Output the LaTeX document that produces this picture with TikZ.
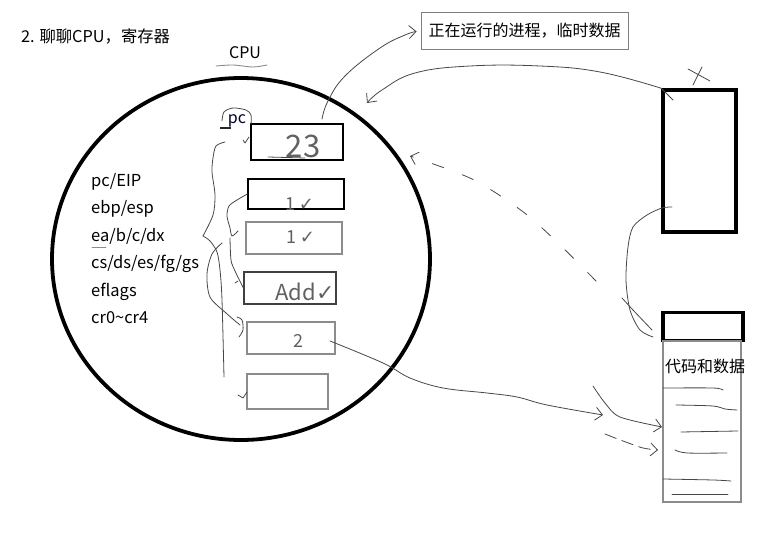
\documentclass[tikz,border=0pt]{standalone}
\usepackage{fontspec}
\setmainfont{Noto Sans CJK SC}
\newfontfamily\symfont{DejaVu Sans}
\usetikzlibrary{arrows.meta,shapes.geometric}
\begin{document}
\begin{tikzpicture}[x=1pt,y=-1pt,
  txt/.style={inner sep=0pt, font=\fontsize{16.5}{16.5}\selectfont},
  cjktxt/.style={inner sep=0pt, font=\fontsize{16}{16}\selectfont},
  regbox/.style={draw=black, line width=1.1pt, inner sep=0pt},
  regboxg/.style={draw=black!45, line width=1.1pt, inner sep=0pt},
  thickbox/.style={draw=black, line width=3.5pt, inner sep=0pt},
  hand/.style={draw=black!72, line width=0.8pt, line cap=round, line join=round},
  handg/.style={draw=black!45, line width=0.9pt, line cap=round, line join=round},
  handtxt/.style={inner sep=0pt, text=black!62},
  tip/.style={-{Straight Barb[length=7pt,width=13pt]}}
]
\useasboundingbox (0,0) rectangle (780,548);

% title
\node (title) [cjktxt, font=\fontsize{16.3}{16.3}\selectfont, anchor=base west] at (21,43) {2. 聊聊CPU，寄存器};
\node (cpulbl) [cjktxt, anchor=base] at (245,59) {CPU};
\draw[handg] plot[smooth] coordinates {(216,66) (233,65) (253,67) (267,65)};

% CPU circle
\node (cpu) [ellipse, draw=black, line width=3.8pt, minimum width=378pt, minimum height=362pt, inner sep=0pt] at (241,259) {};

% register list
\node (l1) [txt, anchor=base west] at (91,187) {pc/EIP};
\node (l2) [txt, anchor=base west] at (91,214) {ebp/esp};
\node (l3) [txt, anchor=base west] at (91,242) {ea/b/c/dx};
\node (l4) [txt, anchor=base west] at (91,269) {cs/ds/es/fg/gs};
\node (l5) [txt, anchor=base west] at (91,297) {eflags};
\node (l6) [txt, anchor=base west] at (91,324) {cr0\textasciitilde cr4};
\draw[handg] (92,247.5) -- (106,247.5);

% register boxes
\node (r1) [regbox, minimum width=92pt, minimum height=36pt] at (297,142) {};
\node (r2) [regbox, minimum width=96pt, minimum height=30pt] at (296,194) {};
\node (r3) [regboxg, minimum width=96pt, minimum height=32pt] at (294,238) {};
\node (r4) [regbox, draw=black!75, minimum width=92pt, minimum height=32pt] at (290,288) {};
\node (r5) [regboxg, minimum width=88pt, minimum height=32pt] at (291,338) {};
\node (r6) [regboxg, minimum width=81pt, minimum height=35pt] at (287.5,391.5) {};

% handwritten contents
\node (v1) [handtxt, font=\fontsize{31}{31}\selectfont] at (303,146) {23};
\draw[hand] (268,157) -- (305,158);
\node (v2) [handtxt, font=\fontsize{18}{18}\selectfont] at (300,204) {1\,{\symfont ✓}};
\node (v3) [handtxt, font=\fontsize{18}{18}\selectfont] at (301,237) {1\,{\symfont ✓}};
\node (v4) [handtxt, font=\fontsize{22}{22}\selectfont] at (305,292) {Add{\symfont ✓}};
\node (v5) [handtxt, font=\fontsize{18}{18}\selectfont] at (298,341) {2};

% pc label
\node (pc) [txt, font=\fontsize{16}{16}\selectfont, text=black!85!blue, anchor=base] at (237,124) {pc};
\draw[hand] plot[smooth] coordinates {(222,121) (224,112) (233,108) (246,110) (251,115) (251,124)};
\draw[draw=black!85, line width=1.6pt] (220,128) -- (231,128);

% left-side hand strokes
\draw[hand] plot[smooth] coordinates {(225,142) (216,146) (213,158) (212,172) (215,195) (213,215) (203,236)};
\draw[hand] plot[smooth] coordinates {(203,236) (210,241) (217,252) (220,270) (222,300) (224,377)};
\draw[hand] plot[smooth] coordinates {(222,243) (212,254) (207,274) (210,297) (226,313) (240,325)};
\draw[hand] plot[smooth] coordinates {(237,317) (242,320) (243,330) (239,337)};
\draw[hand] plot[smooth] coordinates {(r2.west) (237,200) (229,206) (227,216) (230,228) (232,236) (238,231)};
\draw[hand] plot[smooth] coordinates {(230,238) (231,260) (235,271) (r4.west)};
\draw[hand] (243,140) -- (245,143) -- (249,137);
\draw[hand] (235,283) -- (238,281);
\draw[hand] (238,395) -- (243,398) -- (247,392);

% right-side memory blocks
\node (mem) [thickbox, minimum width=73pt, minimum height=142pt] at (699.5,161) {};
\node (stk) [thickbox, minimum width=80pt, minimum height=28pt] at (703,326.5) {};
\node (code) [draw=black!45, line width=1.2pt, inner sep=0pt, minimum width=78pt, minimum height=161pt] at (702,421.5) {};
\node (codetxt) [cjktxt] at (705,366) {代码和数据};
\draw[hand] (688,69) -- (710,81);
\draw[hand] (702,67) -- (693,85);

% lines in code area
\draw[hand] plot[smooth] coordinates {(663,388) (713,388) (723,390)};
\draw[hand] plot[smooth] coordinates {(676,405) (713,406) (725,409) (737,410)};
\draw[hand] (681,432) -- (738,431);
\draw[hand] plot[smooth] coordinates {(675,450) (687,453) (727,453)};
\draw[hand] plot[smooth] coordinates {(663,479) (713,480) (731,481)};
\draw[hand] (672,494) -- (728,494);

% note box
\node (note) [draw=black!50, line width=0.8pt, inner sep=0pt, minimum width=207pt, minimum height=37pt, cjktxt] at (524.5,30.5) {正在运行的进程，临时数据};

% connectors
\draw[hand, tip] plot[smooth, tension=0.7] coordinates {(322,119) (328,101) (345,76) (380,48) (405,35) ([xshift=-4pt,yshift=-1pt]note.west)};
\draw[hand, tip] plot[smooth, tension=0.7] coordinates {(mem.north west) (600,72) (540,66) (470,66) (415,73) (382,90) (367,103)};
\draw[hand] (mem.north west) -- (673,100);
\coordinate (dstart) at (596,281);
\draw[hand, dash pattern=on 12pt off 20pt, tip] plot[smooth] coordinates {(dstart) (558,243) (522,211) (472,179) (410,156)};
\draw[hand] plot[smooth] coordinates {(672,207) (662,208) (647,215) (633,227) (628,247) (626,280) (630,310) (640,330) (653,337)};
\draw[hand] plot[smooth] coordinates {(622,298) (633,310) (652,330)};
\draw[hand, tip] plot[smooth, tension=0.6] coordinates {(330,341) (383,363) (410,378) (443,388) (487,393) (517,397) (547,405) (603,415)};
\coordinate (bstart) at (593,386);
\draw[hand, tip] plot[smooth] coordinates {(bstart) (605,403) (620,417) (662,427)};
\coordinate (cstart) at (605,434);
\draw[hand, dash pattern=on 12pt off 6pt, tip] plot[smooth] coordinates {(cstart) (623,441) (643,448) (658,450)};
\end{tikzpicture}
\end{document}
